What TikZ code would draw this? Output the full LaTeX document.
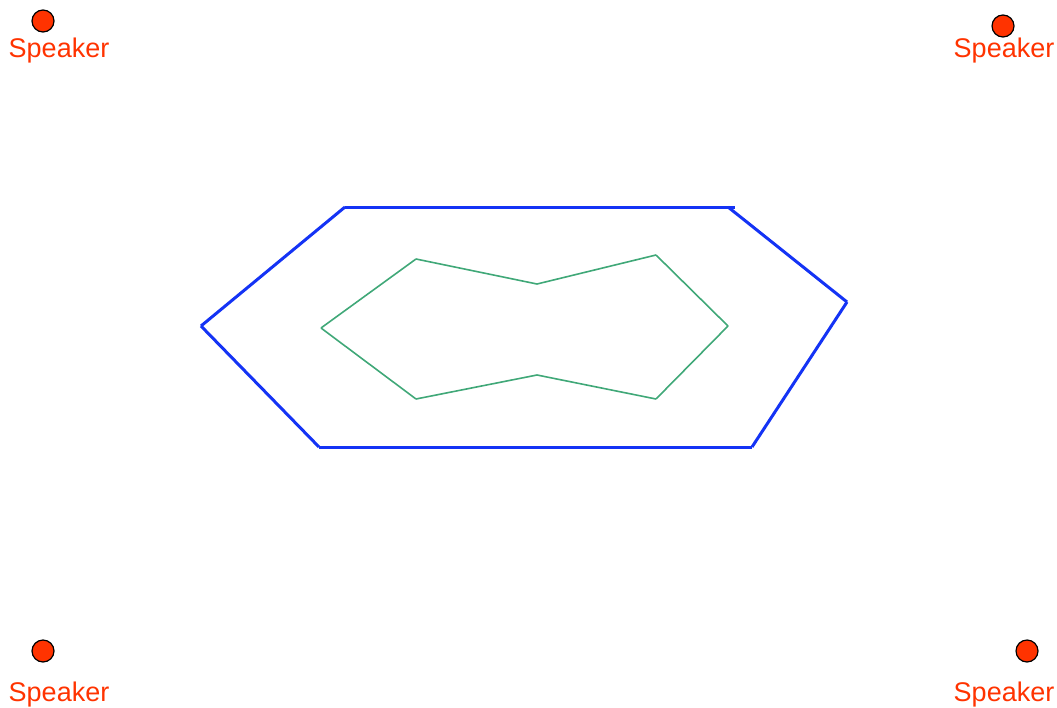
\documentclass[tikz,border=0pt]{standalone}
\usepackage{fontspec}
\setmainfont{Liberation Sans}
\usetikzlibrary{positioning}
\definecolor{spkred}{HTML}{FF3300}
\definecolor{stageblue}{HTML}{1433F5}
\definecolor{pathgreen}{HTML}{40A878}

\begin{document}
\begin{tikzpicture}[
    x=1pt, y=-1pt,
    speaker/.style={circle, draw=black, fill=spkred, line width=1.2pt, minimum size=22pt, inner sep=0pt},
    spklabel/.style={text=spkred, font=\fontsize{27}{29}\selectfont, inner sep=0pt},
    outer/.style={stageblue, line width=3pt},
    inner/.style={pathgreen, line width=1.6pt}
]
    \useasboundingbox (0,0) rectangle (1057,707);

    % speakers in the corners
    \node[speaker] (s1) at (43,21) {};
    \node[speaker] (s2) at (1003,26) {};
    \node[speaker] (s3) at (43,651) {};
    \node[speaker] (s4) at (1027,651) {};
    \node[spklabel] (t1) at (59,51) {Speaker};
    \node[spklabel] (t2) at (1004,51) {Speaker};
    \node[spklabel] (t3) at (59,695) {Speaker};
    \node[spklabel] (t4) at (1004,695) {Speaker};

    % outer boundary
    \coordinate (b1) at (345,207);
    \coordinate (b2) at (735,207);
    \coordinate (b3) at (728,207);
    \coordinate (b4) at (847,302);
    \coordinate (b5) at (752,447);
    \coordinate (b6) at (319,447);
    \coordinate (b7) at (201,326);
    \draw[outer] (b1) -- (b2);
    \draw[outer] (b3) -- (b4);
    \draw[outer] (b4) -- (b5);
    \draw[outer] (b5) -- (b6);
    \draw[outer] (b6) -- (b7);
    \draw[outer] (b7) -- (b1);

    % inner path
    \coordinate (g1) at (416,259);
    \coordinate (g2) at (537,284);
    \coordinate (g3) at (656,255);
    \coordinate (g4) at (728,326);
    \coordinate (g5) at (656,399);
    \coordinate (g6) at (537,375);
    \coordinate (g7) at (416,399);
    \coordinate (g8) at (321,328);
    \draw[inner] (g1) -- (g2);
    \draw[inner] (g2) -- (g3);
    \draw[inner] (g3) -- (g4);
    \draw[inner] (g4) -- (g5);
    \draw[inner] (g5) -- (g6);
    \draw[inner] (g6) -- (g7);
    \draw[inner] (g7) -- (g8);
    \draw[inner] (g8) -- (g1);
\end{tikzpicture}
\end{document}
